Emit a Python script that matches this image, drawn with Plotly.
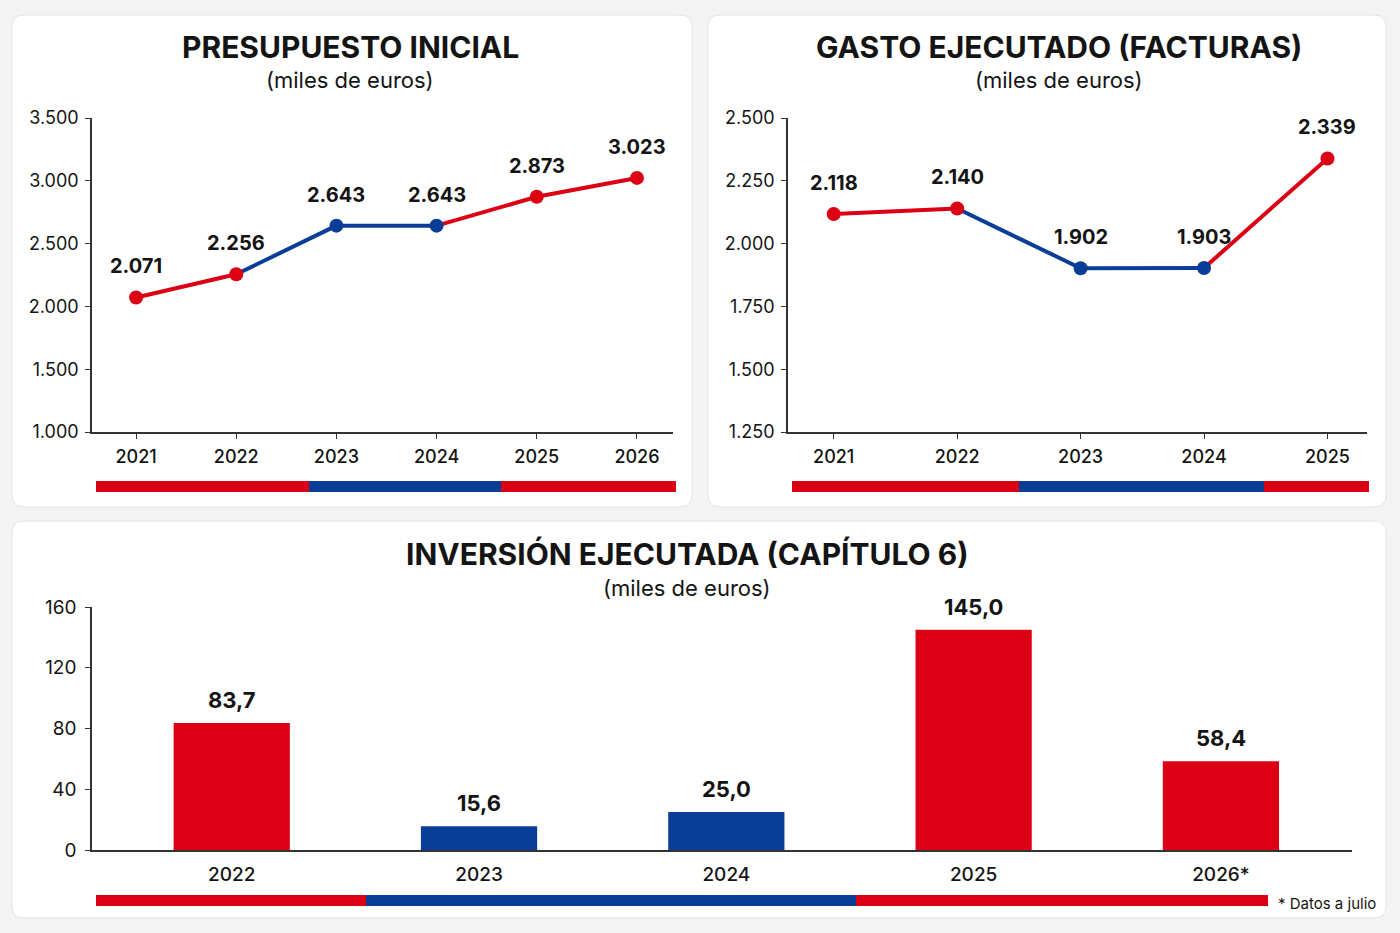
import plotly.graph_objects as go

W, H = 1400, 933
RED = "#dc0015"
BLUE = "#0a3d98"
INK = "#141414"
FONT = "Inter"

# --- datos ---
anios_pres = ["2021", "2022", "2023", "2024", "2025", "2026"]
presupuesto = [2071, 2256, 2643, 2643, 2873, 3023]
color_pres = ["R", "R", "B", "B", "R", "R"]
ticks_pres = [1000, 1500, 2000, 2500, 3000, 3500]

anios_gasto = ["2021", "2022", "2023", "2024", "2025"]
gasto = [2118, 2140, 1902, 1903, 2339]
color_gasto = ["R", "R", "B", "B", "R"]
ticks_gasto = [1250, 1500, 1750, 2000, 2250, 2500]

anios_inv = ["2022", "2023", "2024", "2025", "2026*"]
inversion = [83.7, 15.6, 25.0, 145.0, 58.4]
color_inv = ["R", "B", "B", "R", "R"]
ticks_inv = [0, 40, 80, 120, 160]

COL = {"R": RED, "B": BLUE}


def px(x):
    return x / W


def py(y):
    return 1 - y / H


def miles(v):
    return f"{v:,}".replace(",", ".")


def decimal(v):
    return f"{v:.1f}".replace(".", ",")


def rrect(x0, y0, x1, y1, r=12):
    pts = [
        ("M", [(x0 + r, y0)]), ("L", [(x1 - r, y0)]), ("Q", [(x1, y0), (x1, y0 + r)]),
        ("L", [(x1, y1 - r)]), ("Q", [(x1, y1), (x1 - r, y1)]), ("L", [(x0 + r, y1)]),
        ("Q", [(x0, y1), (x0, y1 - r)]), ("L", [(x0, y0 + r)]), ("Q", [(x0, y0), (x0 + r, y0)]),
    ]
    s = ""
    for cmd, cs in pts:
        s += cmd + " " + " ".join(f"{px(a):.5f},{py(b):.5f}" for a, b in cs) + " "
    return s + "Z"


fig = go.Figure()
shapes = []
annotations = []

# tarjetas
for box in [(12, 15, 692, 507), (708, 15, 1386, 507), (12, 521, 1386, 918)]:
    shapes.append(dict(type="path", path=rrect(*box), xref="paper", yref="paper",
                       fillcolor="white", line=dict(color="#e4e4e4", width=1), layer="below"))


def line_chart(xs, ys, cols, xa, ya):
    # segmentos con el color del punto de destino
    for i in range(len(xs) - 1):
        fig.add_trace(go.Scatter(x=xs[i:i + 2], y=ys[i:i + 2], mode="lines",
                                 line=dict(color=COL[cols[i + 1]], width=4),
                                 xaxis=xa, yaxis=ya, hoverinfo="skip"))
    fig.add_trace(go.Scatter(x=xs, y=ys, mode="markers",
                             marker=dict(size=14, color=[COL[c] for c in cols]),
                             xaxis=xa, yaxis=ya, hoverinfo="skip"))
    for i, y in enumerate(ys):
        annotations.append(dict(x=i, y=y, xref=xa, yref=ya, text=miles(y), showarrow=False,
                                xanchor="center", yanchor="middle", yshift=31,
                                font=dict(family=FONT, size=20, color=INK, weight=700)))


line_chart(anios_pres, presupuesto, color_pres, "x", "y")
line_chart(anios_gasto, gasto, color_gasto, "x2", "y2")

fig.add_trace(go.Bar(x=anios_inv, y=inversion, marker=dict(color=[COL[c] for c in color_inv], line=dict(width=0)),
                     width=0.47, xaxis="x3", yaxis="y3", hoverinfo="skip"))
for i, y in enumerate(inversion):
    annotations.append(dict(x=i, y=y, xref="x3", yref="y3", text=decimal(y), showarrow=False,
                            xanchor="center", yanchor="bottom", yshift=8,
                            font=dict(family=FONT, size=22, color=INK, weight=700)))

# titulos
titles = [
    ("PRESUPUESTO INICIAL", 350, 47, 80),
    ("GASTO EJECUTADO (FACTURAS)", 1059, 47, 80),
    ("INVERSIÓN EJECUTADA (CAPÍTULO 6)", 687, 554, 588),
]
for t, cx, ty, sy in titles:
    annotations.append(dict(x=px(cx), y=py(ty), xref="paper", yref="paper", text=t, showarrow=False,
                            xanchor="center", yanchor="middle",
                            font=dict(family=FONT, size=30, color=INK, weight=700)))
    annotations.append(dict(x=px(cx), y=py(sy), xref="paper", yref="paper", text="(miles de euros)",
                            xanchor="center", yanchor="middle",
                            showarrow=False, font=dict(family=FONT, size=22, color=INK)))

annotations.append(dict(x=px(1276), y=py(903), xref="paper", yref="paper", text="* Datos a julio",
                        xanchor="left", yanchor="middle", showarrow=False,
                        font=dict(family=FONT, size=15, color=INK)))

# bandas de periodo
bands = [
    (481, 492, [(96, 309, RED), (309, 501, BLUE), (501, 676, RED)]),
    (481, 492, [(792, 1019, RED), (1019, 1264, BLUE), (1264, 1369, RED)]),
    (895, 906, [(96, 366, RED), (366, 856, BLUE), (856, 1268, RED)]),
]
for y0, y1, segs in bands:
    for x0, x1, c in segs:
        shapes.append(dict(type="rect", xref="paper", yref="paper", x0=px(x0), x1=px(x1),
                           y0=py(y1), y1=py(y0), fillcolor=c, line=dict(width=0)))

axis_common = dict(showgrid=False, zeroline=False, showline=True, linecolor="#333333", linewidth=1.5,
                   tickcolor="#333333", ticks="outside", fixedrange=True, automargin=False)
xfont = dict(family=FONT, size=18, color=INK, weight=500)
yfont = dict(family=FONT, size=18, color=INK)

fig.update_layout(
    width=W, height=H,
    margin=dict(l=0, r=0, t=0, b=0, autoexpand=False),
    paper_bgcolor="#f3f3f3", plot_bgcolor="rgba(0,0,0,0)",
    showlegend=False,
    shapes=shapes, annotations=annotations,
    xaxis=dict(axis_common, domain=[px(92), px(673)], type="category", range=[-0.44, 5.36],
               ticklen=5, tickfont=xfont, ticklabelstandoff=3, anchor="y"),
    yaxis=dict(axis_common, domain=[py(432), py(118)], range=[1000, 3500], tickvals=ticks_pres,
               ticktext=[miles(v) for v in ticks_pres], ticklen=5, tickfont=yfont, ticklabelstandoff=3, anchor="x"),
    xaxis2=dict(axis_common, domain=[px(788), px(1367)], type="category", range=[-0.37, 4.32],
                ticklen=5, tickfont=xfont, ticklabelstandoff=3, anchor="y2"),
    yaxis2=dict(axis_common, domain=[py(432), py(118)], range=[1250, 2500], tickvals=ticks_gasto,
                ticktext=[miles(v) for v in ticks_gasto], ticklen=5, tickfont=yfont, ticklabelstandoff=3, anchor="x2"),
    xaxis3=dict(axis_common, domain=[px(92), px(1352)], type="category", range=[-0.565, 4.53],
                ticks="", tickfont=dict(xfont, size=19), ticklabelstandoff=6, anchor="y3"),
    yaxis3=dict(axis_common, domain=[py(850), py(607)], range=[0, 160], tickvals=ticks_inv,
                ticklen=5, tickfont=dict(yfont, size=19), ticklabelstandoff=5, anchor="x3"),
)

fig.write_html("out.html", config={"displayModeBar": False},
               post_script="document.body.style.margin='0';document.body.style.overflow='hidden';")
